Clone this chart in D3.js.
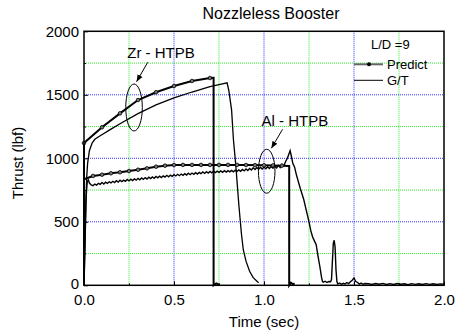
<!DOCTYPE html>
<meta charset="utf-8">
<style>
  body { margin: 0; background: #fff; }
  svg { font-family: "Liberation Sans", Arial, sans-serif; }
  .grid-major { stroke: #3030ff; stroke-dasharray: 1,1; }
  .grid-minor { stroke: #30ee30; stroke-dasharray: 1,1; }
</style>
<body>
<svg width="464" height="334"></svg>
<script src="https://cdn.jsdelivr.net/npm/d3@7"></script>
<script>
// ---- data ----
var xTicks = [0, 0.5, 1.0, 1.5, 2.0];
var yTicks = [0, 500, 1000, 1500, 2000];

// Zr - HTPB, prediction (markers every 0.1 s)
var zrPredict = [[0, 0], [0, 1120], [0.1, 1244], [0.2, 1354], [0.3, 1459], [0.4, 1520],
  [0.5, 1569], [0.6, 1609], [0.7, 1632], [0.72, 1634], [0.72, 0], [0.735, 15], [0.75, 5]];
var zrMarks = [[0, 1120], [0.1, 1244], [0.2, 1354], [0.3, 1459], [0.4, 1520], [0.5, 1569],
  [0.6, 1609], [0.7, 1632]];

// Zr - HTPB, ground test
var zrTest = [[0, 0], [0.005, 300], [0.01, 650], [0.015, 850], [0.02, 960], [0.03, 1060],
  [0.045, 1120], [0.06, 1150], [0.09, 1178], [0.15, 1230], [0.2, 1272], [0.3, 1352],
  [0.4, 1420], [0.5, 1475], [0.6, 1522], [0.7, 1565], [0.75, 1580], [0.795, 1594],
  [0.805, 1530], [0.82, 1380], [0.83, 1150], [0.843, 950], [0.861, 620], [0.875, 400],
  [0.885, 280], [0.9, 190], [0.92, 110], [0.94, 60], [0.97, 20]];

// Al - HTPB, prediction (markers every 0.05 s)
var alPredict = [[0, 0], [0, 835], [0.05, 861], [0.1, 871], [0.15, 882], [0.2, 890],
  [0.25, 900], [0.3, 910], [0.35, 921], [0.4, 934], [0.45, 942], [0.5, 947], [0.6, 948],
  [0.7, 948], [0.8, 948], [0.9, 947], [1.0, 945], [1.1, 942], [1.14, 940], [1.14, 0],
  [1.15, 20], [1.16, 8], [1.17, 15]];
var alMarks = [[0.05, 861], [0.1, 871], [0.15, 882], [0.2, 890], [0.25, 900], [0.3, 910],
  [0.35, 921], [0.4, 934], [0.45, 942], [0.5, 947], [0.55, 948], [0.6, 948], [0.65, 948],
  [0.7, 948], [0.75, 948], [0.8, 948], [0.85, 948], [0.9, 947], [0.95, 946], [1.0, 945],
  [1.05, 944], [1.1, 942]];

// Al - HTPB, ground test
var alTest = [[0, 0], [0.006, 350], [0.012, 700], [0.018, 815], [0.024, 830], [0.03, 805],
  [0.04, 790], [0.05, 784], [0.06, 797], [0.07, 789], [0.08, 803], [0.09, 794],
  [0.10, 809], [0.11, 798], [0.12, 812], [0.13, 802], [0.14, 815], [0.15, 806],
  [0.16, 819], [0.17, 809], [0.18, 823], [0.19, 812], [0.20, 827], [0.21, 816],
  [0.22, 828], [0.23, 819], [0.24, 833], [0.25, 822], [0.26, 836], [0.27, 825],
  [0.28, 838], [0.29, 828], [0.30, 842], [0.31, 831], [0.32, 845], [0.33, 834],
  [0.34, 848], [0.35, 837], [0.36, 851], [0.37, 840], [0.38, 853], [0.39, 843],
  [0.40, 857], [0.41, 846], [0.42, 860], [0.43, 849], [0.44, 862], [0.45, 852],
  [0.46, 866], [0.47, 855], [0.48, 868], [0.49, 858], [0.50, 871], [0.51, 861],
  [0.52, 874], [0.53, 863], [0.54, 876], [0.55, 866], [0.56, 879], [0.57, 868],
  [0.58, 882], [0.59, 871], [0.60, 884], [0.61, 874], [0.62, 887], [0.63, 876],
  [0.64, 889], [0.65, 879], [0.66, 892], [0.67, 881], [0.68, 894], [0.69, 884],
  [0.70, 897], [0.71, 886], [0.72, 898], [0.73, 888], [0.74, 899], [0.75, 889],
  [0.76, 901], [0.77, 890], [0.78, 902], [0.79, 891], [0.80, 903], [0.81, 893],
  [0.82, 905], [0.83, 894], [0.84, 906], [0.85, 896], [0.86, 909], [0.87, 898],
  [0.88, 912], [0.89, 901], [0.90, 916], [0.91, 904], [0.92, 920], [0.93, 908],
  [0.94, 925], [0.95, 912], [0.96, 927], [0.97, 914], [0.98, 930], [0.99, 916],
  [1.00, 931], [1.01, 918], [1.02, 934], [1.03, 920], [1.04, 936], [1.05, 922],
  [1.06, 940], [1.07, 925], [1.08, 945], [1.09, 928], [1.10, 952], [1.11, 940],
  [1.12, 975], [1.13, 1000], [1.14, 1040], [1.145, 1060], [1.15, 1030], [1.16, 960],
  [1.17, 930], [1.18, 870], [1.19, 820], [1.20, 770], [1.21, 725], [1.22, 680],
  [1.23, 620], [1.24, 560], [1.25, 500], [1.26, 430], [1.27, 380], [1.28, 350],
  [1.29, 320], [1.30, 230], [1.31, 150], [1.32, 60], [1.325, 30], [1.33, 25],
  [1.34, 32], [1.35, 22], [1.36, 30], [1.37, 28], [1.375, 45], [1.385, 330],
  [1.39, 355], [1.395, 300], [1.40, 120], [1.405, 30], [1.41, 10], [1.42, 18],
  [1.43, 8], [1.44, 16], [1.45, 10], [1.46, 22], [1.47, 14], [1.48, 28], [1.49, 40],
  [1.50, 58], [1.51, 30], [1.52, 22], [1.53, 10], [1.54, 18], [1.55, 8], [1.56, 14],
  [1.58, 12], [1.60, 6], [1.62, 14], [1.64, 8], [1.66, 15], [1.68, 7], [1.70, 13],
  [1.72, 6], [1.74, 14], [1.76, 8], [1.78, 12], [1.80, 5], [1.82, 13], [1.84, 7],
  [1.86, 12], [1.88, 6], [1.90, 13], [1.92, 7], [1.94, 12], [1.96, 6], [1.98, 11],
  [2.0, 8]];

// annotations: label, label position, arrow from/to, ellipse centre and half-size (data units)
var notes = [
  {text: "Zr - HTPB", x: 0.428, y: 1786, ax1: 0.354, ay1: 1756, ax2: 0.292, ay2: 1603,
   cx: 0.278, cy: 1400, rx: 0.046, ry: 185},
  {text: "Al - HTPB", x: 1.172, y: 1254, ax1: 1.103, ay1: 1228, ax2: 1.041, ay2: 1079,
   cx: 1.015, cy: 898, rx: 0.046, ry: 173}
];

// ---- chart ----
var svg = d3.select("svg");
var margin = {top: 31.3, right: 20, bottom: 48.7, left: 84};
var width = 464 - margin.left - margin.right;
var height = 334 - margin.top - margin.bottom;

var g = svg.append("g")
  .attr("transform", "translate(" + margin.left + "," + margin.top + ")");

var x = d3.scaleLinear().domain([0, 2]).range([0, width]);
var y = d3.scaleLinear().domain([0, 2000]).range([height, 0]);

// grid
var gx = d3.range(1, 8).map(function(i) { return i * 0.25; });
var gy = d3.range(1, 8).map(function(i) { return i * 250; });

g.selectAll(".vgrid").data(gx).enter().append("line")
  .attr("class", function(d, i) { return i % 2 ? "grid-major" : "grid-minor"; })
  .attr("x1", x).attr("x2", x)
  .attr("y1", 0).attr("y2", height);

g.selectAll(".hgrid").data(gy).enter().append("line")
  .attr("class", function(d, i) { return i % 2 ? "grid-major" : "grid-minor"; })
  .attr("y1", y).attr("y2", y)
  .attr("x1", 0).attr("x2", width);

// axes with inward ticks
var xAxis = g.append("g")
  .attr("transform", "translate(0," + height + ")")
  .call(d3.axisBottom(x).tickValues(xTicks).tickFormat(d3.format(".1f"))
    .tickSize(-4).tickPadding(9));
var yAxis = g.append("g")
  .call(d3.axisLeft(y).tickValues(yTicks).tickFormat(d3.format("d"))
    .tickSize(-4).tickPadding(5));

g.append("g").attr("transform", "translate(0," + height + ")")
  .call(d3.axisBottom(x).tickValues(gx.filter(function(d, i) { return i % 2 == 0; }))
    .tickSize(-2).tickFormat(""));
g.append("g")
  .call(d3.axisLeft(y).tickValues(gy.filter(function(d, i) { return i % 2 == 0; }))
    .tickSize(-2).tickFormat(""));

g.selectAll(".domain").remove();
g.selectAll(".tick line").attr("stroke", "#000");
[xAxis, yAxis].forEach(function(a) {
  a.selectAll("text").style("font-size", "15px").attr("fill", "#000")
    .style("font-family", "'Liberation Sans', Arial, sans-serif");
});
// lift the "0" label a touch so it clears "0.0"
yAxis.selectAll(".tick text").filter(function(d) { return d === 0; }).attr("dy", "0.2em");

// curves
var line = d3.line()
  .x(function(d) { return x(d[0]); })
  .y(function(d) { return y(d[1]); });

g.append("path").datum(zrTest).attr("d", line)
  .attr("fill", "none").attr("stroke", "#000").attr("stroke-width", 1.3);
g.append("path").datum(alTest).attr("d", line)
  .attr("fill", "none").attr("stroke", "#000").attr("stroke-width", 1.4)
  .attr("stroke-linejoin", "miter");
g.append("path").datum(zrPredict).attr("d", line)
  .attr("fill", "none").attr("stroke", "#000").attr("stroke-width", 2);
g.append("path").datum(alPredict).attr("d", line)
  .attr("fill", "none").attr("stroke", "#000").attr("stroke-width", 2);

g.selectAll(".mk").data(zrMarks.concat(alMarks)).enter().append("circle")
  .attr("cx", function(d) { return x(d[0]); })
  .attr("cy", function(d) { return y(d[1]); })
  .attr("r", 1.8)
  .attr("fill", "#777").attr("stroke", "#000").attr("stroke-width", 0.8);

// annotations
svg.append("defs").append("marker")
  .attr("id", "arrow").attr("viewBox", "0 0 10 10")
  .attr("refX", 10).attr("refY", 5)
  .attr("markerWidth", 7).attr("markerHeight", 7)
  .attr("orient", "auto")
  .append("path").attr("d", "M0,1 L10,5 L0,9 z").attr("fill", "#000");

notes.forEach(function(n) {
  g.append("ellipse")
    .attr("cx", x(n.cx)).attr("cy", y(n.cy))
    .attr("rx", x(n.rx) - x(0)).attr("ry", y(0) - y(n.ry))
    .attr("fill", "none").attr("stroke", "#000").attr("stroke-width", 1);
  g.append("line")
    .attr("x1", x(n.ax1)).attr("y1", y(n.ay1))
    .attr("x2", x(n.ax2)).attr("y2", y(n.ay2))
    .attr("stroke", "#000").attr("stroke-width", 1)
    .attr("marker-end", "url(#arrow)");
  g.append("text")
    .attr("x", x(n.x)).attr("y", y(n.y))
    .attr("text-anchor", "middle")
    .style("font-size", "15px")
    .text(n.text);
});

// legend
var lg = g.append("g").attr("transform", "translate(" + (x(1.5)) + ",0)");
lg.append("text").attr("x", 17).attr("y", 18).style("font-size", "13px").text("L/D =9");
lg.append("line").attr("x1", 0).attr("x2", 29).attr("y1", 33).attr("y2", 33)
  .attr("stroke", "#666").attr("stroke-width", 2);
lg.append("circle").attr("cx", 15).attr("cy", 33).attr("r", 2)
  .attr("fill", "#000");
lg.append("text").attr("x", 33).attr("y", 37.5).style("font-size", "13px").text("Predict");
lg.append("line").attr("x1", 0).attr("x2", 29).attr("y1", 49).attr("y2", 49)
  .attr("stroke", "#000").attr("stroke-width", 1);
lg.append("text").attr("x", 33).attr("y", 54).style("font-size", "13px").text("G/T");

// frame
g.append("rect")
  .attr("width", width).attr("height", height)
  .attr("fill", "none").attr("stroke", "#000").attr("stroke-width", 1.5);

// titles
svg.append("text")
  .attr("x", 271).attr("y", 19)
  .attr("text-anchor", "middle")
  .style("font-size", "16px")
  .text("Nozzleless Booster");

svg.append("text")
  .attr("x", margin.left + width / 2).attr("y", 327)
  .attr("text-anchor", "middle")
  .style("font-size", "15px")
  .text("Time (sec)");

svg.append("text")
  .attr("transform", "translate(23,163) rotate(-90)")
  .attr("text-anchor", "middle")
  .style("font-size", "15px")
  .text("Thrust (lbf)");
</script>
</body>
